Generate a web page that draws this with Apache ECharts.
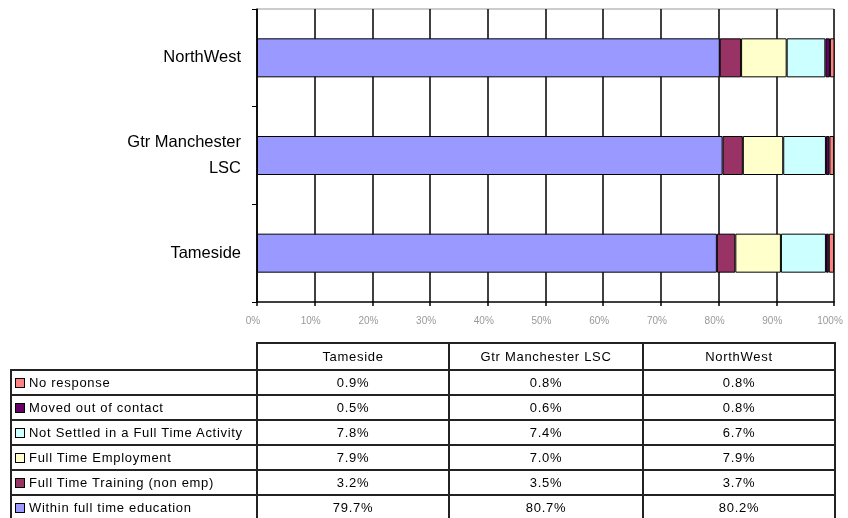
<!DOCTYPE html>
<html>
<head>
<meta charset="utf-8">
<script src="https://cdn.jsdelivr.net/npm/echarts@6/dist/echarts.min.js"></script>
<style>
  html, body { margin: 0; padding: 0; background: #fff; overflow: hidden; }
  #chart { position: absolute; left: 0; top: 0; width: 848px; height: 518px; }
  #tbl { position: absolute; left: 10px; top: 342px; border-collapse: collapse; table-layout: fixed;
         font-family: "Liberation Sans", Arial, sans-serif; font-size: 13px; letter-spacing: 0.7px; color: #000; }
  #tbl td { border: 2px solid #222; height: 23px; padding: 0 3px; white-space: nowrap; overflow: hidden; }
  #tbl td.num { text-align: center; }
  #tbl tr.head td { height: 25px; text-align: center; }
  #tbl tr.head td.blank { border: none; }
  .sw { display: inline-block; width: 8px; height: 8px; border: 1px solid #000;
        margin-right: 4px; vertical-align: -1px; }
</style>
</head>
<body>
<div id="chart"></div>
<table id="tbl"></table>
<script>
// categories (bottom to top)
var categories = ['Tameside', 'Gtr Manchester LSC', 'NorthWest'];
// series in stack order, left to right
var seriesNames = ['Within full time education', 'Full Time Training (non emp)', 'Full Time Employment',
                   'Not Settled in a Full Time Activity', 'Moved out of contact', 'No response'];
var seriesColors = ['#9999FF', '#993366', '#FFFFCC', '#CCFFFF', '#660066', '#FF8080'];
var withinEducation = [79.7, 80.7, 80.2];
var fullTimeTraining = [3.2, 3.5, 3.7];
var fullTimeEmployment = [7.9, 7.0, 7.9];
var notSettled = [7.8, 7.4, 6.7];
var movedOut = [0.5, 0.6, 0.8];
var noResponse = [0.9, 0.8, 0.8];

var seriesData = [withinEducation, fullTimeTraining, fullTimeEmployment, notSettled, movedOut, noResponse];

var myChart = echarts.init(document.getElementById('chart'));

var series = [];
for (var i = 0; i < seriesNames.length; i++) {
    series.push({
        name: seriesNames[i],
        type: 'bar',
        stack: 'total',
        barWidth: 39,
        data: seriesData[i],
        itemStyle: { color: seriesColors[i], borderColor: '#000', borderWidth: 1 }
    });
}

var option = {
    animation: false,
    grid: { left: 257, right: 14, top: 9, bottom: 216 },
    xAxis: {
        type: 'value',
        min: 0,
        max: 100,
        interval: 10,
        axisLine: { show: true, lineStyle: { color: '#000', width: 1.5 } },
        axisTick: { show: true, length: 4, lineStyle: { color: '#000', width: 1.5 } },
        axisLabel: { formatter: '{value}%', color: '#999', fontSize: 10,
                     fontFamily: 'Liberation Sans', margin: 14, padding: [0, 8, 0, 0] },
        splitLine: { show: true, lineStyle: { color: '#000', width: 1.5 } }
    },
    yAxis: {
        type: 'category',
        data: categories,
        axisLine: { show: true, lineStyle: { color: '#000', width: 1.5 } },
        axisTick: { show: true, length: 5, lineStyle: { color: '#000' } },
        axisLabel: {
            color: '#000', fontSize: 16.5, fontFamily: 'Liberation Sans', margin: 16,
            lineHeight: 26, align: 'right',
            formatter: function (v) { return v === 'Gtr Manchester LSC' ? 'Gtr Manchester\nLSC' : v; }
        }
    },
    graphic: [{
        type: 'line',
        shape: { x1: 257, y1: 9, x2: 834, y2: 9 },
        style: { stroke: '#999', lineWidth: 1 }
    }],
    series: series
};
myChart.setOption(option);

// data table below the chart (rows listed top to bottom as in the reference)
var tbl = document.getElementById('tbl');
var widths = [239, 184, 186, 184];
var html = '<tr class="head"><td class="blank" style="width:' + widths[0] + 'px"></td>';
for (var c = 0; c < categories.length; c++) {
    html += '<td style="width:' + widths[c + 1] + 'px">' + categories[c] + '</td>';
}
html += '</tr>';
var tableLabels = ['No response', 'Moved out of contact', 'Not Settled in a Full Time Activity',
                   'Full Time Employment', 'Full Time Training (non emp)', 'Within full time education'];
for (var r = seriesNames.length - 1; r >= 0; r--) {
    html += '<tr><td><span class="sw" style="background:' + seriesColors[r] + '"></span>' +
            tableLabels[seriesNames.length - 1 - r] + '</td>';
    for (var c = 0; c < categories.length; c++) {
        html += '<td class="num">' + seriesData[r][c].toFixed(1) + '%</td>';
    }
    html += '</tr>';
}
tbl.innerHTML = html;
</script>
</body>
</html>
